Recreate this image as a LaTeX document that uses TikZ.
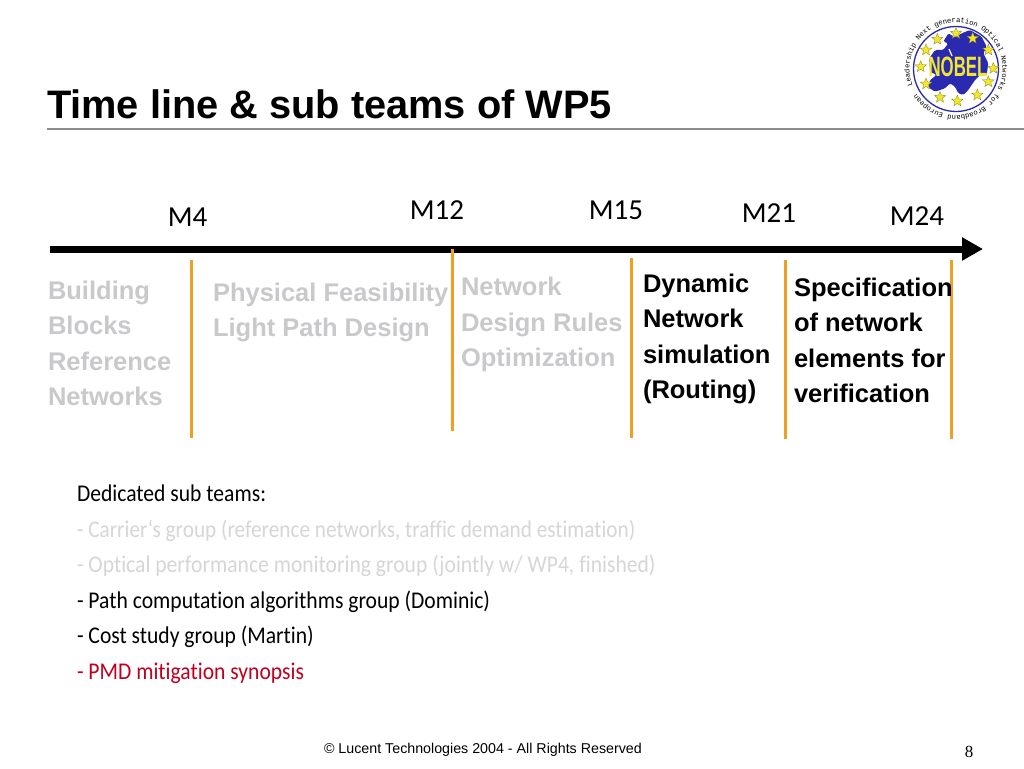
\documentclass[tikz,border=0pt]{standalone}
\usepackage{fontspec}
\setmainfont{Liberation Sans}
\newfontfamily\listfont[FakeStretch=0.9,Ligatures=NoCommon]{Carlito}
\newfontfamily\mfont{Carlito}
\newfontfamily\ringfont{Liberation Mono}
\newfontfamily\pagefont{Liberation Serif}
\usetikzlibrary{arrows.meta,shapes.geometric,decorations.text}
\definecolor{fadegrey}{HTML}{C9C9CB}
\definecolor{listgrey}{HTML}{D6D6D6}
\definecolor{tickorange}{HTML}{F0A020}
\definecolor{listred}{HTML}{C00020}
\definecolor{rulegrey}{HTML}{8C8C8C}
\definecolor{nobelblue}{HTML}{2A2AB0}
\definecolor{nobelyellow}{HTML}{F2E62E}
\tikzset{
 inner sep=0pt,outer sep=0pt,
 titletext/.style={anchor=base west,font=\bfseries\fontsize{39.75}{44}\selectfont},
 milestone/.style={anchor=base,font=\mfont\fontsize{29}{32}\selectfont},
 tickline/.style={draw=tickorange,line width=3pt},
 block/.style={anchor=north west,align=left,font=\bfseries\fontsize{25.5}{35.5}\selectfont},
 listline/.style={anchor=base west,font=\listfont\fontsize{24}{28}\selectfont},
 eustar/.style={star,star points=5,star point ratio=2.4,minimum size=12pt,fill=nobelyellow,draw=olive,line width=.3pt},
}
\begin{document}
\begin{tikzpicture}[x=1pt,y=-1pt]
\useasboundingbox (0,0) rectangle (1024,768);
\fill[white] (0,0) rectangle (1024,768);
% title
\node[titletext] (title) at (47,118) {Time line \& sub teams of WP5};
\coordinate (ruleL) at (47,128.5);
\coordinate (ruleR) at (1024,128.5);
\draw[rulegrey,line width=2pt] (ruleL) -- (ruleR);
% logo
\begin{scope}[shift={(956,69)},yscale=-1]
 \draw[nobelblue,line width=1.3pt,fill=white] (0,0) circle[radius=42.5];
 \fill[nobelblue,rounded corners=1.5pt] (-7.7,35.7) -- (-1,31.7) -- (5.7,35.7) -- (14,39) -- (25.7,32.3) -- (30.7,22.3) -- (27.3,15.7) -- (32.3,5.7) -- (30.7,-6) -- (24,-6) -- (19,-11) -- (12.3,-21) -- (7.3,-26) -- (2.3,-24.3) -- (-1,-17.7) -- (-6,-14.3) -- (-11,-19.3) -- (-21,-22.7) -- (-27.7,-18.3) -- (-26,-11) -- (-19.3,-6) -- (-26,-2.7) -- (-26.7,10.7) -- (-21,19) -- (-12.7,19) -- (-7.7,25.7) -- (-12.7,27.3) -- cycle;
 \draw[white,line width=1.2pt] (-7,20) -- (-4,13);
 \foreach \p/\q in {0/35.7,16.7/30.7,-18.7/29.7,32.3/19,-30/19,-35.3/2.3,37.3/0.7,32.3/-12.7,-30/-15,21.3/-26,-16/-28.3,1.3/-32}
   \node[eustar] at (\p,\q) {};
 \path[postaction={decorate,decoration={text along path,text align={left},
   text={|\ringfont\fontsize{7.15}{8}\selectfont|Leadership Next generation Optical Networks for Broadband European}}}]
   (201:46.5) arc[start angle=201,end angle=-152,radius=46.5];
\end{scope}
\node[font=\bfseries\fontsize{28}{28}\selectfont,text=nobelyellow,anchor=center,xscale=.6] (nobel) at (958,66.5) {NOBEL};
% timeline
\coordinate (axisL) at (50,249);
\coordinate (axisR) at (983,249);
\draw[line width=7pt,-{Triangle[length=21pt,width=22pt]}] (axisL) -- (axisR);
% milestones
\node[milestone] (m4) at (187.5,226) {M4};
\node[milestone] (m12) at (437,219) {M12};
\node[milestone] (m15) at (616,219) {M15};
\node[milestone] (m21) at (769,222) {M21};
\node[milestone] (m24) at (917,225) {M24};
% ticks
\foreach \n/\x/\a/\b in {a/191/260/438,b/452/249/431,c/631/258/438,d/785/260/439,e/951/260/439}{
 \coordinate (t\n1) at (\x,\a);
 \coordinate (t\n2) at (\x,\b);
 \draw[tickline] (t\n1) -- (t\n2);
}
% blocks
\node[block,text=fadegrey] (bb) at (48,281) {Building\\Blocks\\Reference\\Networks};
\node[block,text=fadegrey] (pf) at (213,283) {Physical Feasibility\\Light Path Design};
\node[block,text=fadegrey] (nd) at (461,277.5) {Network\\Design Rules\\Optimization};
\node[block] (dn) at (643,274) {Dynamic\\Network\\simulation\\(Routing)};
\node[block] (sp) at (794,278) {Specification\\of network\\elements for\\verification};
% list
\node[listline] (l0) at (77,501.5) {Dedicated sub teams:};
\node[listline,text=listgrey,xscale=.984] (l1) at (77,537) {- Carrier‘s group (reference networks, traffic demand estimation)};
\node[listline,text=listgrey] (l2) at (77,572.5) {- Optical performance monitoring group (jointly w/ WP4, finished)};
\node[listline] (l3) at (77,608) {- Path computation algorithms group (Dominic)};
\node[listline] (l4) at (77,643.5) {- Cost study group (Martin)};
\node[listline,text=listred] (l5) at (77,679) {- PMD mitigation synopsis};
% footer
\node[anchor=base west,font=\fontsize{14.25}{16}\selectfont] (foot) at (324,753) {© Lucent Technologies 2004 - All Rights Reserved};
\node[anchor=base,font=\pagefont\fontsize{17}{18}\selectfont] (page) at (969,757) {8};
\end{tikzpicture}
\end{document}
